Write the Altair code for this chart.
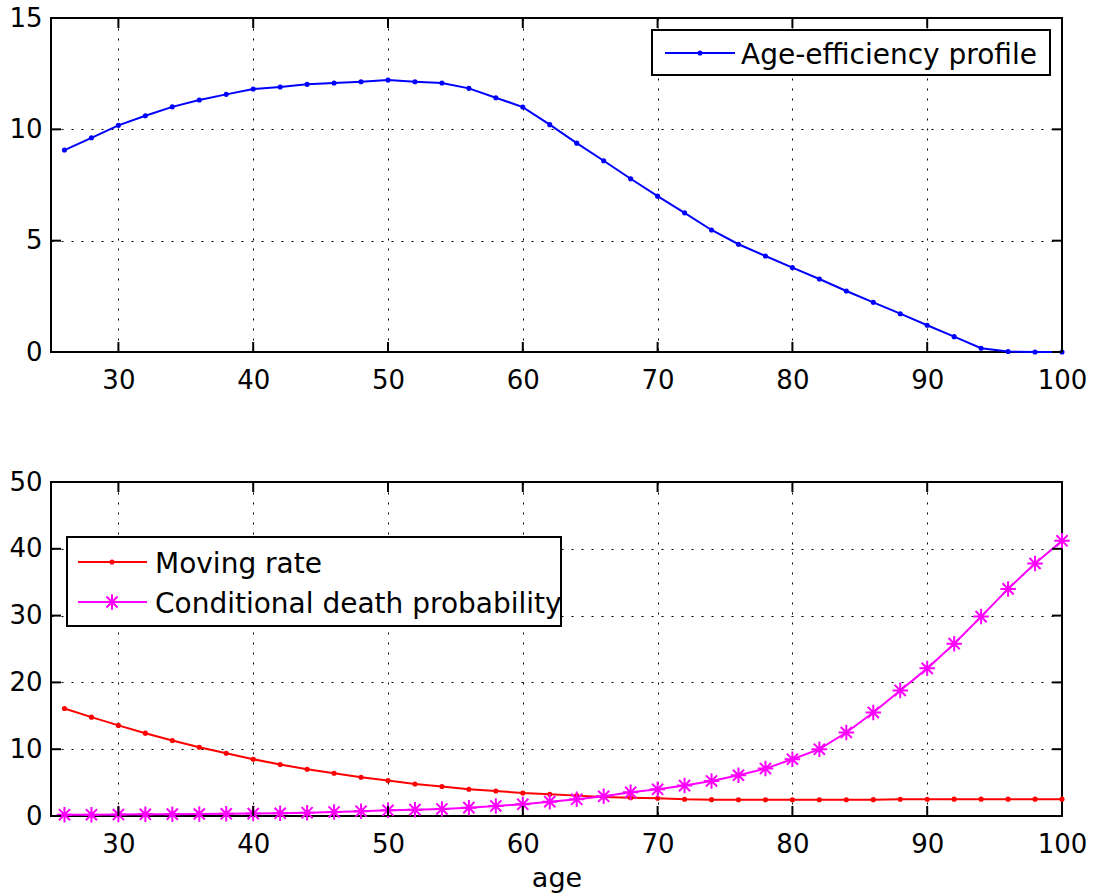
import altair as alt
import pandas as pd

# Age grid (years)
ages = list(range(26, 101, 2))

# Age-efficiency profile
efficiency = [9.07, 9.62, 10.18, 10.61, 11.01, 11.32, 11.57, 11.81, 11.90, 12.02,
              12.08, 12.14, 12.21, 12.14, 12.08, 11.84, 11.42, 11.00, 10.21, 9.38,
              8.59, 7.78, 7.00, 6.25, 5.48, 4.84, 4.31, 3.79, 3.28, 2.74,
              2.23, 1.72, 1.20, 0.69, 0.17, 0.02, 0.0, 0.0]

# Moving rate (%)
moving_rate = [16.1, 14.8, 13.56, 12.4, 11.3, 10.3, 9.4, 8.5, 7.7, 7.0,
               6.4, 5.8, 5.3, 4.8, 4.42, 4.0, 3.74, 3.44, 3.24, 3.05,
               2.84, 2.75, 2.65, 2.5, 2.45, 2.43, 2.43, 2.43, 2.43, 2.43,
               2.45, 2.5, 2.5, 2.52, 2.52, 2.52, 2.52, 2.52]

# Conditional death probability (%)
death_prob = [0.2, 0.2, 0.22, 0.25, 0.28, 0.3, 0.33, 0.36, 0.4, 0.5,
              0.6, 0.72, 0.85, 0.95, 1.05, 1.25, 1.5, 1.75, 2.15, 2.5,
              2.95, 3.55, 4.0, 4.55, 5.25, 6.1, 7.1, 8.5, 10.0, 12.5,
              15.5, 18.8, 22.1, 25.8, 29.85, 34.0, 37.8, 41.2]

x_ticks = [30, 40, 50, 60, 70, 80, 90, 100]
top_y_ticks = [0, 5, 10, 15]
bottom_y_ticks = [0, 10, 20, 30, 40, 50]

top_labels = ["Age-efficiency profile"]
bottom_labels = ["Moving rate", "Conditional death probability"]

FONT = "DejaVu Sans"
W, H = 1011, 334
TICK = 10
BLUE, RED, MAGENTA = "#0000FF", "#FF0000", "#FF00FF"
ASTERISK = "M0,-1L0,1M-1,0L1,0M-0.72,-0.72L0.72,0.72M-0.72,0.72L0.72,-0.72"
DOT_SIZE = 26
STAR_SIZE = 240

df = pd.DataFrame({"age": ages, "eff": efficiency, "move": moving_rate, "death": death_prob})

x_scale = alt.Scale(domain=[25, 100], nice=False, zero=False)


def panel(y_field_specs, y_domain, y_ticks, x_title, legend_layers):
    y_scale = alt.Scale(domain=y_domain, nice=False)
    x_axis = alt.Axis(values=x_ticks, title=x_title) if x_title else alt.Axis(values=x_ticks, title=None)
    y_axis = alt.Axis(values=y_ticks, title=None)

    def X(field):
        return alt.X(field, type="quantitative", scale=x_scale, axis=x_axis)

    def Y(field):
        return alt.Y(field, type="quantitative", scale=y_scale, axis=y_axis)

    layers = []
    for field, color, marker in y_field_specs:
        base = alt.Chart(df)
        layers.append(base.mark_line(color=color, strokeWidth=2).encode(x=X("age"), y=Y(field)))
        if marker == "dot":
            layers.append(base.mark_point(shape="circle", filled=True, color=color, size=DOT_SIZE, opacity=1)
                          .encode(x=X("age"), y=Y(field)))
        else:
            layers.append(base.mark_point(shape=ASTERISK, filled=False, color=color, size=STAR_SIZE,
                                          strokeWidth=2, opacity=1)
                          .encode(x=X("age"), y=Y(field)))

    # inward ticks on all four sides
    xt = alt.Chart(pd.DataFrame({"t": x_ticks}))
    yt = alt.Chart(pd.DataFrame({"t": y_ticks}))
    tick_style = dict(color="black", strokeWidth=2)
    layers.append(xt.mark_rule(**tick_style).encode(x=X("t"), y=alt.value(H), y2=alt.value(H - TICK)))
    layers.append(xt.mark_rule(**tick_style).encode(x=X("t"), y=alt.value(0), y2=alt.value(TICK)))
    layers.append(yt.mark_rule(**tick_style).encode(y=Y("t"), x=alt.value(0), x2=alt.value(TICK)))
    layers.append(yt.mark_rule(**tick_style).encode(y=Y("t"), x=alt.value(W), x2=alt.value(W - TICK)))

    layers.extend(legend_layers)
    return alt.layer(*layers).properties(width=W, height=H)


one = alt.Chart(pd.DataFrame({"k": [0]}))


def legend_box(x0, x1, y0, y1):
    return one.mark_rect(fill="white", stroke="black", strokeWidth=2).encode(
        x=alt.value(x0), x2=alt.value(x1), y=alt.value(y0), y2=alt.value(y1))


def legend_entry(label, color, marker, y, x0, x1, xm, xt, yb):
    out = [one.mark_rule(color=color, strokeWidth=2).encode(
        x=alt.value(x0), x2=alt.value(x1), y=alt.value(y))]
    if marker == "dot":
        out.append(one.mark_point(shape="circle", filled=True, color=color, size=DOT_SIZE, opacity=1)
                   .encode(x=alt.value(xm), y=alt.value(y)))
    else:
        out.append(one.mark_point(shape=ASTERISK, filled=False, color=color, size=STAR_SIZE,
                                  strokeWidth=2, opacity=1)
                   .encode(x=alt.value(xm), y=alt.value(y)))
    out.append(one.mark_text(align="left", baseline="alphabetic", font=FONT, fontSize=28,
                             color="black").encode(x=alt.value(xt), y=alt.value(yb),
                                                   text=alt.value(label)))
    return out


top_legend = [legend_box(601, 999, 12, 57)] + legend_entry(
    top_labels[0], BLUE, "dot", 35, 614, 684, 649, 690, 46)

bottom_legend = [legend_box(16, 510, 55, 144)] \
    + legend_entry(bottom_labels[0], RED, "dot", 80, 27, 96, 61, 104, 91) \
    + legend_entry(bottom_labels[1], MAGENTA, "star", 120, 27, 96, 61, 104, 131)

top = panel([("eff", BLUE, "dot")], [0, 15], top_y_ticks, None, top_legend)
bottom = panel([("move", RED, "dot"), ("death", MAGENTA, "star")], [0, 50], bottom_y_ticks,
               "age", bottom_legend)

chart = alt.vconcat(top, bottom, spacing=74).properties(
    padding={"left": 7, "top": 4, "right": 5, "bottom": 5}
).configure_view(
    stroke="black", strokeWidth=2
).configure_axis(
    labelFont=FONT, labelFontSize=26, labelColor="black",
    grid=True, gridColor="black", gridDash=[2, 8], gridWidth=1, gridOpacity=1,
    domain=False, ticks=False, labelFlush=False,
    titleFont=FONT, titleFontSize=27, titleFontWeight="normal", titleColor="black",
    titlePadding=8,
).configure_axisX(labelPadding=15).configure_axisY(labelPadding=9)

chart.save("out.html", embed_options={"renderer": "svg", "actions": False})
